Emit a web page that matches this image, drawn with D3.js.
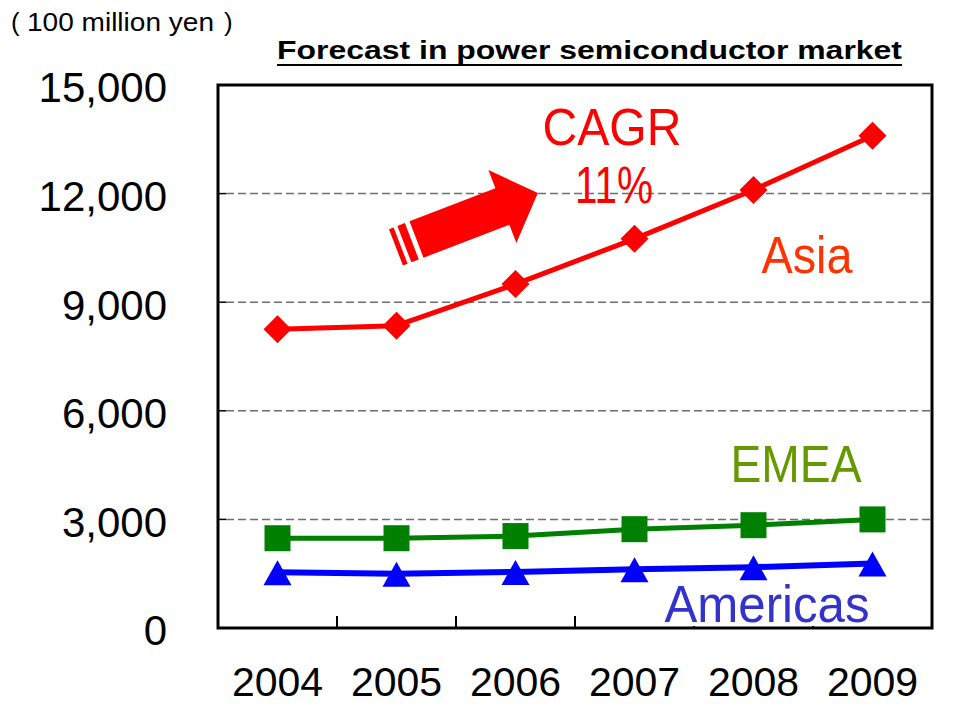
<!DOCTYPE html>
<html>
<head>
<meta charset="utf-8">
<script src="https://cdn.jsdelivr.net/npm/d3@7"></script>
<style>
  body { margin: 0; background: #fff; }
  text { font-family: "Liberation Sans", Arial, sans-serif; }
</style>
</head>
<body>
<div id="chart"></div>
<script>
// data (100 million yen)
const years = ["2004", "2005", "2006", "2007", "2008", "2009"];
const asia = [8250, 8350, 9500, 10750, 12100, 13600];
const emea = [2480, 2480, 2540, 2730, 2840, 3000];
const americas = [1540, 1500, 1550, 1620, 1680, 1780];
const yTicks = [0, 3000, 6000, 9000, 12000, 15000];
const gridTicks = [3000, 6000, 9000, 12000];

const W = 956, H = 705;
const plotLeft = 218, plotRight = 932, plotTop = 85, plotBottom = 628;

const svg = d3.select("#chart").append("svg")
    .attr("width", W)
    .attr("height", H);

const x = d3.scaleBand().domain(years).range([plotLeft, plotRight]);
const y = d3.scaleLinear().domain([0, 15000]).range([plotBottom, plotTop]);

// gridlines
svg.append("g").selectAll("line")
    .data(gridTicks)
    .join("line")
    .attr("x1", plotLeft + 8).attr("x2", plotRight)
    .attr("y1", d => y(d)).attr("y2", d => y(d))
    .attr("stroke", "#6e6e6e")
    .attr("stroke-width", 1.5)
    .attr("stroke-dasharray", "8,4");

// short inward ticks on the left
svg.append("g").selectAll("line")
    .data(gridTicks)
    .join("line")
    .attr("x1", plotLeft).attr("x2", plotLeft + 8)
    .attr("y1", d => y(d)).attr("y2", d => y(d))
    .attr("stroke", "#000")
    .attr("stroke-width", 1.5);

// category boundary ticks on the bottom
svg.append("g").selectAll("line")
    .data(years.slice(1))
    .join("line")
    .attr("x1", d => x(d)).attr("x2", d => x(d))
    .attr("y1", plotBottom).attr("y2", plotBottom - 12)
    .attr("stroke", "#000")
    .attr("stroke-width", 2);

// y axis labels
const yAxis = svg.append("g")
    .attr("transform", "translate(" + plotLeft + ",0)")
    .call(d3.axisLeft(y).tickValues(yTicks).tickFormat(d3.format(",")).tickSize(0).tickPadding(51));
yAxis.select(".domain").remove();
yAxis.selectAll("text")
    .attr("dy", "0.4em")
    .style("font-size", "42px")
    .style("font-family", "'Liberation Sans', Arial, sans-serif")
    .attr("fill", "#000");

// x axis labels
const xAxis = svg.append("g")
    .attr("transform", "translate(0," + plotBottom + ")")
    .call(d3.axisBottom(x).tickSize(0).tickPadding(39));
xAxis.select(".domain").remove();
xAxis.selectAll("text")
    .style("font-size", "41px")
    .style("font-family", "'Liberation Sans', Arial, sans-serif")
    .attr("fill", "#000");

// plot frame
svg.append("rect")
    .attr("x", plotLeft).attr("y", plotTop)
    .attr("width", plotRight - plotLeft).attr("height", plotBottom - plotTop)
    .attr("fill", "none")
    .attr("stroke", "#000")
    .attr("stroke-width", 3);

// titles
svg.append("text")
    .attr("x", 277).attr("y", 59)
    .attr("textLength", 625)
    .attr("lengthAdjust", "spacingAndGlyphs")
    .style("font-size", "26px")
    .style("font-weight", "bold")
    .text("Forecast in power semiconductor market");
svg.append("line")
    .attr("x1", 277).attr("x2", 902)
    .attr("y1", 65).attr("y2", 65)
    .attr("stroke", "#000").attr("stroke-width", 2);

const unit = svg.append("text").attr("y", 31).style("font-size", "26px");
unit.append("tspan").attr("x", 11).text("(");
unit.append("tspan").attr("x", 27).attr("textLength", 187).attr("lengthAdjust", "spacingAndGlyphs").text("100 million yen");
unit.append("tspan").attr("x", 224).text(")");

// CAGR arrow
const arrow = svg.append("g")
    .attr("transform", "translate(416.5,239.5) rotate(-21)")
    .attr("fill", "#ff0000");
arrow.append("path")
    .attr("d", "M0,-19.5 L92,-19.5 L92,-39 L130,0 L92,39 L92,19.5 L0,19.5 Z");
arrow.append("rect").attr("x", -13).attr("y", -19.5).attr("width", 8).attr("height", 39);
arrow.append("rect").attr("x", -22).attr("y", -19.5).attr("width", 5).attr("height", 39);

// series
const series = [
    { name: "Asia", values: asia, color: "#ff0000", width: 5, shape: "diamond" },
    { name: "EMEA", values: emea, color: "#008000", width: 5, shape: "square" },
    { name: "Americas", values: americas, color: "#0000ff", width: 6, shape: "triangle" }
];

const line = d3.line()
    .x((d, i) => x(years[i]) + x.bandwidth() / 2)
    .y(d => y(d));

const shapes = {
    diamond: "M0,-14 L14,0 L0,14 L-14,0 Z",
    square: "M-13,-13 L13,-13 L13,13 L-13,13 Z",
    triangle: "M0,-12 L14,13 L-14,13 Z"
};

series.forEach(s => {
    svg.append("path")
        .datum(s.values)
        .attr("d", line)
        .attr("fill", "none")
        .attr("stroke", s.color)
        .attr("stroke-width", s.width)
        .attr("stroke-linejoin", "round");
    svg.append("g").selectAll("path")
        .data(s.values)
        .join("path")
        .attr("transform", (d, i) => "translate(" + (x(years[i]) + x.bandwidth() / 2) + "," + y(d) + ")")
        .attr("d", shapes[s.shape])
        .attr("fill", s.color);
});

// annotation labels
function label(txt, cx, by, len, color, bg) {
    const t = svg.append("text")
        .attr("x", cx).attr("y", by)
        .attr("text-anchor", "middle")
        .attr("textLength", len)
        .attr("lengthAdjust", "spacingAndGlyphs")
        .style("font-size", "52px")
        .attr("fill", color)
        .text(txt);
    if (bg) {
        const b = t.node().getBBox();
        svg.insert("rect", () => t.node())
            .attr("x", b.x - 3).attr("y", b.y + 8)
            .attr("width", b.width + 6).attr("height", plotBottom - 2 - (b.y + 8))
            .attr("fill", "#fff");
    }
    return t;
}

label("CAGR", 612, 145, 139, "#ff0000");
label("11%", 614, 203, 78, "#ff0000");
label("Asia", 807, 273, 91, "#ff3300");
label("EMEA", 796, 482, 131, "#669900");
label("Americas", 767, 622, 205, "#3333cc", true);
</script>
</body>
</html>
